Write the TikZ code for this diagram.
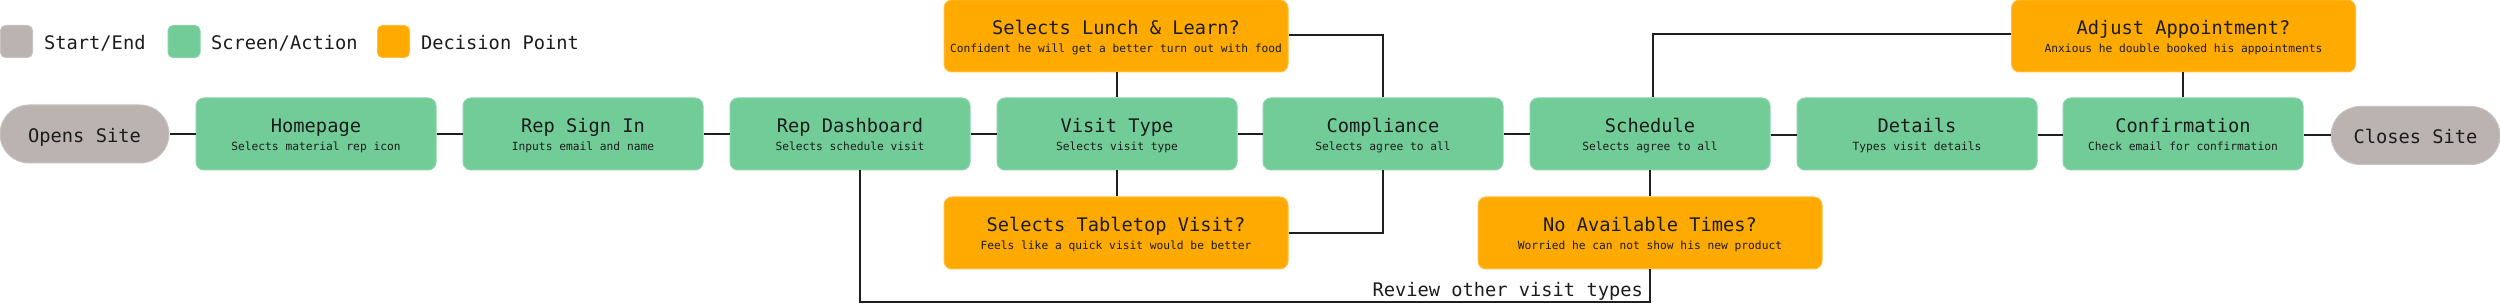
\documentclass[tikz,border=0pt]{standalone}
\usepackage{fontspec}
\newfontfamily\mono{DejaVu Sans Mono}
\definecolor{startgray}{HTML}{BAB3AF}
\definecolor{startborder}{HTML}{C9C3C0}
\definecolor{screengreen}{HTML}{72CC98}
\definecolor{screenborder}{HTML}{8DD3AA}
\definecolor{decorange}{HTML}{FFAA00}
\definecolor{decborder}{HTML}{FFBE40}
\definecolor{textdark}{HTML}{1C1C1C}
\definecolor{linedark}{HTML}{1E1E1E}
\newcommand\flowbox[6]{%
  \node[#2] (#1) at (#3,#4) {};
  \node[titletext] (#1-t) at (#3,#4-1.5) {#5};
  \node[subtext] (#1-s) at (#3,#4+17) {#6};}
\begin{document}
\begin{tikzpicture}[x=1pt,y=-1pt,
  screen/.style={draw=screenborder, line width=1pt, fill=screengreen, rounded corners=8pt,
    minimum width=240pt, minimum height=72pt, inner sep=0pt},
  decision/.style={draw=decborder, line width=1pt, fill=decorange, rounded corners=8pt,
    minimum width=344pt, minimum height=72pt, inner sep=0pt},
  terminal/.style={draw=startborder, line width=1pt, fill=startgray, rounded corners=29pt,
    minimum width=169pt, minimum height=58pt, inner sep=0pt},
  legendsq/.style={draw=#1, line width=1pt, rounded corners=5pt, minimum width=32pt, minimum height=32pt, inner sep=0pt},
  titletext/.style={font=\mono\fontsize{18.7}{22}\selectfont, text=textdark, inner sep=0pt, anchor=base},
  subtext/.style={font=\mono\fontsize{11.25}{13}\selectfont, text=textdark, inner sep=0pt, anchor=base},
  legendtext/.style={font=\mono\fontsize{18.7}{22}\selectfont, text=textdark, inner sep=0pt, anchor=base west},
  conn/.style={draw=linedark, line width=2pt}
]
\useasboundingbox (0,0) rectangle (2500,304);

% legend
\node[legendsq=startborder, fill=startgray] (lg1) at (16.5,41.5) {};
\node[legendtext] (lg1t) at (44,50) {Start/End};
\node[legendsq=screenborder, fill=screengreen] (lg2) at (184,41.5) {};
\node[legendtext] (lg2t) at (211,50) {Screen/Action};
\node[legendsq=decborder, fill=decorange] (lg3) at (393.5,41.5) {};
\node[legendtext] (lg3t) at (421,50) {Decision Point};

% terminals
\node[terminal] (opens) at (84.5,134) {};
\node[titletext] (opens-t) at (84.5,142.5) {Opens Site};
\node[terminal] (closes) at (2415.5,135.5) {};
\node[titletext] (closes-t) at (2415.5,144) {Closes Site};

% screens
\flowbox{home}{screen}{316}{134}{Homepage}{Selects material rep icon}
\flowbox{sign}{screen}{583}{134}{Rep Sign In}{Inputs email and name}
\flowbox{dash}{screen}{850}{134}{Rep Dashboard}{Selects schedule visit}
\flowbox{vtype}{screen}{1117}{134}{Visit Type}{Selects visit type}
\flowbox{comp}{screen}{1383}{134}{Compliance}{Selects agree to all}
\flowbox{sched}{screen}{1650}{134}{Schedule}{Selects agree to all}
\flowbox{details}{screen}{1917}{134}{Details}{Types visit details}
\flowbox{conf}{screen}{2183}{134}{Confirmation}{Check email for confirmation}

% decisions
\flowbox{lunch}{decision}{1116}{36}{Selects Lunch \& Learn?}{Confident he will get a better turn out with food}
\flowbox{table}{decision}{1116}{233}{Selects Tabletop Visit?}{Feels like a quick visit would be better}
\flowbox{nat}{decision}{1650}{233}{No Available Times?}{Worried he can not show his new product}
\flowbox{adjust}{decision}{2183.5}{36}{Adjust Appointment?}{Anxious he double booked his appointments}

% connectors
\begin{scope}[on background layer/.style={}]
\draw[conn] (opens.east) -- (home.west);
\draw[conn] (home.east) -- (sign.west);
\draw[conn] (sign.east) -- (dash.west);
\draw[conn] (dash.east) -- (vtype.west);
\draw[conn] (vtype.east) -- (comp.west);
\draw[conn] (comp.east) -- (sched.west);
\draw[conn] ([yshift=-1pt]sched.east) -- ([yshift=-1pt]details.west);
\draw[conn] ([yshift=-1pt]details.east) -- ([yshift=-1pt]conf.west);
\draw[conn] (closes.west) -- (closes.west -| conf.east);
\draw[conn] (vtype.north) -- (vtype.north |- lunch.south);
\draw[conn] (vtype.south) -- (vtype.south |- table.north);
\draw[conn] ([yshift=1pt]lunch.east) -| (comp.north);
\draw[conn] (table.east) -| (comp.south);
\draw[conn] ([xshift=3pt]sched.north) |- ([yshift=2pt]adjust.west);
\draw[conn] (adjust.south -| conf.north) -- (conf.north);
\draw[conn] (sched.south) -- (sched.south |- nat.north);
\coordinate (rv) at (1650,302);
\draw[conn] (nat.south) -- (rv) -| ([xshift=10pt]dash.south);
\node[titletext, anchor=base east] (rvlabel) at (1643,297) {Review other visit types};
\end{scope}
\end{tikzpicture}
\end{document}
